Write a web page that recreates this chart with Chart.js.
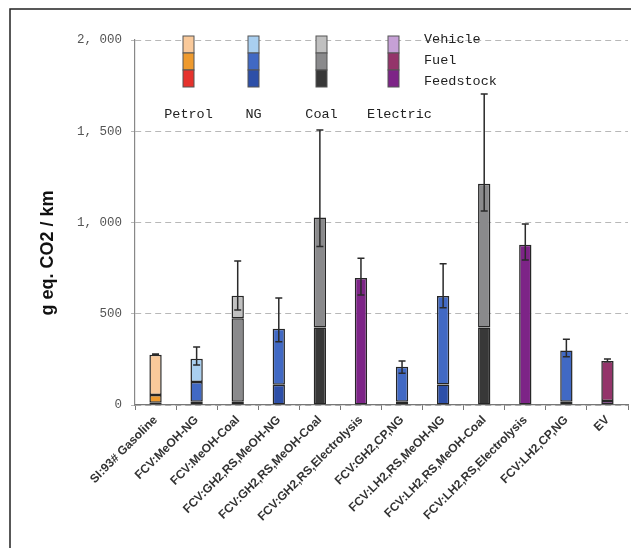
<!DOCTYPE html>
<html>
<head>
<meta charset="utf-8">
<script src="https://cdn.jsdelivr.net/npm/chart.js@4"></script>
<style>
  html, body { margin: 0; padding: 0; background: #fff; }
  #wrap { position: relative; width: 631px; height: 548px; }
</style>
</head>
<body>
<div id="wrap"><canvas id="emissionChart" width="631" height="548"></canvas></div>
<script>
// Pathway names (x axis)
const categories = ['SI:93# Gasoline', 'FCV:MeOH-NG', 'FCV:MeOH-Coal', 'FCV:GH2,RS,MeOH-NG',
    'FCV:GH2,RS,MeOH-Coal', 'FCV:GH2,RS,Electrolysis', 'FCV:GH2,CP,NG', 'FCV:LH2,RS,MeOH-NG',
    'FCV:LH2,RS,MeOH-Coal', 'FCV:LH2,RS,Electrolysis', 'FCV:LH2,CP,NG', 'EV'];
// Energy source of each pathway, picks the colour family
const sources = ['Petrol', 'NG', 'Coal', 'NG', 'Coal', 'Electric', 'NG', 'NG', 'Coal', 'Electric', 'NG', 'Electric'];

// Stacked segments, g eq. CO2 / km
const feedstock = [13, 18, 18, 111, 424, 696, 18, 113, 424, 878, 18, 22];
const fuel = [42, 108, 457, 307, 604, 0, 192, 484, 789, 0, 280, 219];
const vehicle = [220, 128, 124, 0, 0, 0, 0, 0, 0, 0, 0, 0];

// Error bar ends (absolute values)
const errHigh = [279, 318, 789, 586, 1507, 804, 241, 774, 1704, 992, 360, 252];
const errLow = [272, 219, 520, 347, 868, 603, 174, 533, 1063, 795, 265, 237];

const yTicks = [0, 500, 1000, 1500, 2000];
const legendSources = ['Petrol', 'NG', 'Coal', 'Electric'];
const stageNames = ['Vehicle', 'Fuel', 'Feedstock'];

const palette = {
    Petrol:   { Vehicle: '#f9c99a', Fuel: '#ee9a2e', Feedstock: '#e5322d' },
    NG:       { Vehicle: '#a9cff0', Fuel: '#4169c4', Feedstock: '#2d4fa8' },
    Coal:     { Vehicle: '#c0c0c0', Fuel: '#8a8a8c', Feedstock: '#383838' },
    Electric: { Vehicle: '#c6a0d6', Fuel: '#94346a', Feedstock: '#7d2487' }
};

function makeDataset(label, values) {
    return {
        label: label,
        data: values.map(v => v || null),
        backgroundColor: sources.map(s => palette[s][label]),
        borderColor: '#262626',
        borderWidth: 1.5,
        borderSkipped: false,
        barPercentage: 0.6,
        categoryPercentage: 0.5,
        stack: 'total'
    };
}

const extras = {
    id: 'extras',
    afterDatasetsDraw(chart) {
        const ctx = chart.ctx;
        const x = chart.scales.x, y = chart.scales.y;
        ctx.save();
        ctx.strokeStyle = '#2a2a2a';
        ctx.lineWidth = 1.5;
        categories.forEach((c, i) => {
            const px = x.getPixelForValue(i);
            const top = y.getPixelForValue(errHigh[i]);
            const bot = y.getPixelForValue(errLow[i]);
            ctx.beginPath();
            ctx.moveTo(px, top); ctx.lineTo(px, bot);
            ctx.moveTo(px - 3.5, top); ctx.lineTo(px + 3.5, top);
            ctx.moveTo(px - 3.5, bot); ctx.lineTo(px + 3.5, bot);
            ctx.stroke();
        });
        ctx.restore();
    },
    afterDraw(chart) {
        const ctx = chart.ctx;
        ctx.save();
        // outer frame
        ctx.strokeStyle = '#222';
        ctx.lineWidth = 1.5;
        ctx.beginPath();
        ctx.moveTo(631, 9); ctx.lineTo(10, 9); ctx.lineTo(10, 548);
        ctx.stroke();

        // y axis title
        ctx.save();
        ctx.fillStyle = '#111';
        ctx.font = 'bold 18px "Liberation Sans", Arial, sans-serif';
        ctx.textAlign = 'center';
        ctx.textBaseline = 'middle';
        ctx.translate(48, 253);
        ctx.rotate(-Math.PI / 2);
        ctx.fillText('g eq. CO2 / km', 0, 0);
        ctx.restore();

        // legend swatches
        const xs = [183, 248, 316, 388];
        ctx.font = '13.5px "Liberation Mono", "DejaVu Sans Mono", monospace';
        ctx.textBaseline = 'middle';
        legendSources.forEach((s, i) => {
            stageNames.forEach((st, j) => {
                ctx.fillStyle = palette[s][st];
                ctx.fillRect(xs[i], 36 + j * 17, 11, 17);
                ctx.strokeStyle = '#555';
                ctx.lineWidth = 1;
                ctx.strokeRect(xs[i], 36 + j * 17, 11, 17);
            });
            ctx.fillStyle = '#222';
            ctx.textAlign = 'center';
            ctx.fillText(s, xs[i] + 5.5 + (s === 'Electric' ? 6 : 0), 114);
        });
        ctx.textAlign = 'left';
        stageNames.forEach((st, j) => {
            ctx.fillText(st, 424, 39 + j * 21);
        });
        ctx.restore();
    }
};

new Chart(document.getElementById('emissionChart').getContext('2d'), {
    type: 'bar',
    data: {
        labels: categories,
        datasets: [
            makeDataset('Feedstock', feedstock),
            makeDataset('Fuel', fuel),
            makeDataset('Vehicle', vehicle)
        ]
    },
    plugins: [extras],
    options: {
        responsive: false,
        animation: false,
        layout: { padding: { top: 40, right: 3, left: 0, bottom: 0 } },
        plugins: {
            legend: { display: false },
            tooltip: { enabled: false }
        },
        scales: {
            x: {
                stacked: true,
                afterFit: function(scale) { scale.height = 143; },
                grid: {
                    offset: true,
                    drawOnChartArea: false,
                    tickLength: 5,
                    color: '#777'
                },
                border: { color: '#777', width: 1.2 },
                ticks: {
                    minRotation: 45,
                    maxRotation: 45,
                    autoSkip: false,
                    padding: 3,
                    color: '#333',
                    font: { family: '"Liberation Sans", Arial, sans-serif', size: 12, weight: 'bold' }
                }
            },
            y: {
                stacked: true,
                min: 0,
                max: 2000,
                afterFit: function(scale) { scale.width = 135; },
                afterBuildTicks: function(scale) { scale.ticks = yTicks.map(v => ({ value: v })); },
                grid: {
                    color: '#b8b8b8',
                    tickLength: 4,
                    drawTicks: true
                },
                border: { color: '#888', width: 1.2, dash: [6, 4] },
                ticks: {
                    padding: 9,
                    color: '#555',
                    font: { family: '"Liberation Mono", "DejaVu Sans Mono", monospace', size: 12.5 },
                    callback: function(value) {
                        return value.toLocaleString('en-US').replace(',', ', ');
                    }
                }
            }
        }
    }
});
</script>
</body>
</html>
